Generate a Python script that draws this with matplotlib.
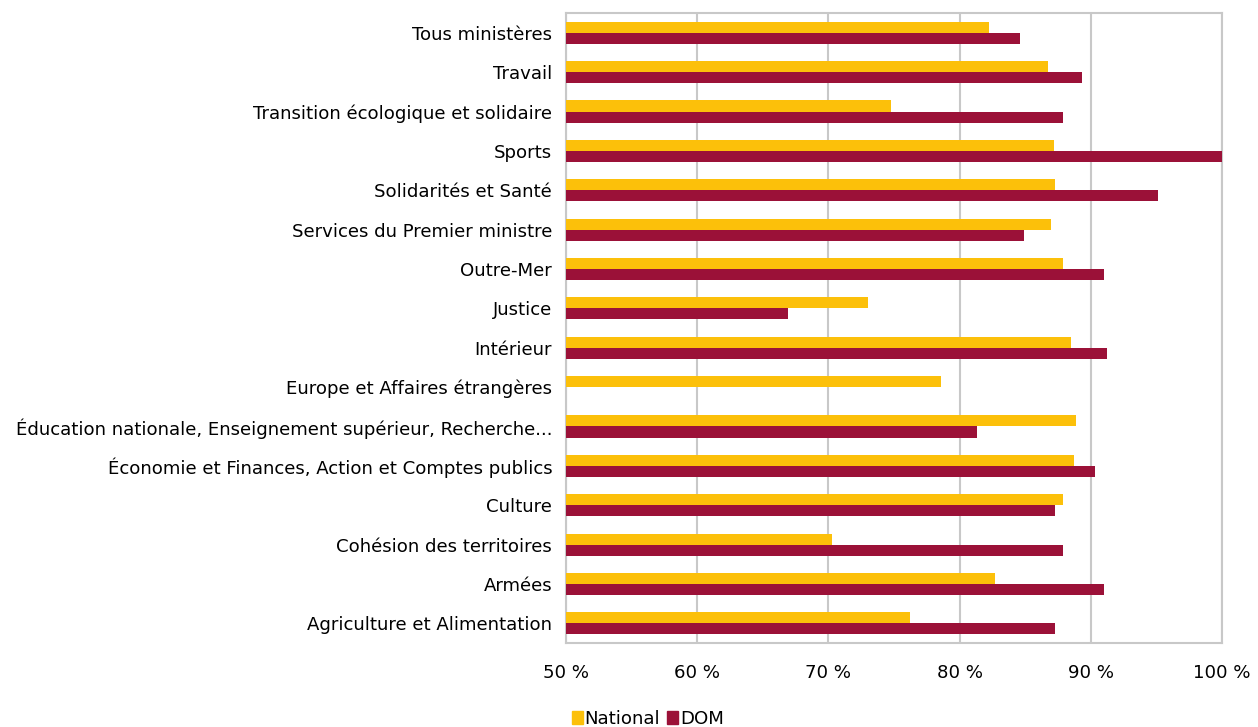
import numpy as np
import matplotlib.pyplot as plt
from matplotlib.patches import Patch

categories = ["Tous ministères", "Travail", "Transition écologique et solidaire", "Sports",
              "Solidarités et Santé", "Services du Premier ministre", "Outre-Mer", "Justice",
              "Intérieur", "Europe et Affaires étrangères",
              "Éducation nationale, Enseignement supérieur, Recherche...",
              "Économie et Finances, Action et Comptes publics", "Culture",
              "Cohésion des territoires", "Armées", "Agriculture et Alimentation"]
national = [82.2, 86.7, 74.8, 87.2, 87.3, 87.0, 87.9, 73.0, 88.5, 78.6, 88.9, 88.7, 87.9, 70.3, 82.7, 76.2]
dom = [84.6, 89.3, 87.9, 100.0, 95.1, 84.9, 91.0, 66.9, 91.2, np.nan, 81.3, 90.3, 87.3, 87.9, 91.0, 87.3]
xticks = [50, 60, 70, 80, 90, 100]

col_nat = "#FCC00A"
col_dom = "#9B1138"

def main():
    fig = plt.figure(figsize=(12.58, 7.27), dpi=100)
    ax = fig.add_axes([0.45, 0.1155, 0.5214, 0.8665])
    y = np.arange(len(categories))
    h = 0.28
    ax.barh(y - h/2, national, height=h, left=0, color=col_nat, zorder=3)
    ax.barh(y + h/2, dom, height=h, left=0, color=col_dom, zorder=3)
    ax.set_xlim(50, 100)
    ax.set_ylim(len(categories) - 0.5, -0.5)
    ax.set_yticks(y)
    ax.set_yticklabels(categories, fontsize=13.1)
    ax.set_xticks(xticks)
    ax.set_xticklabels(["%d %%" % t for t in xticks], fontsize=13.1)
    ax.tick_params(axis="both", length=0)
    ax.tick_params(axis="y", pad=10)
    ax.tick_params(axis="x", pad=15)
    ax.grid(axis="x", color="#c8c8c8", linewidth=1.5, zorder=0)
    for s in ax.spines.values():
        s.set_color("#c8c8c8")
        s.set_linewidth(1.5)
    handles = [Patch(color=col_nat, label="National"), Patch(color=col_dom, label="DOM")]
    fig.legend(handles=handles, loc="lower center", bbox_to_anchor=(0.515, -0.024), ncol=2,
               frameon=False, fontsize=13.1, handlelength=0.6, handleheight=0.7,
               handletextpad=0.1, columnspacing=0.4)
    fig.savefig("out.png", dpi=100)

if __name__ == "__main__":
    main()
